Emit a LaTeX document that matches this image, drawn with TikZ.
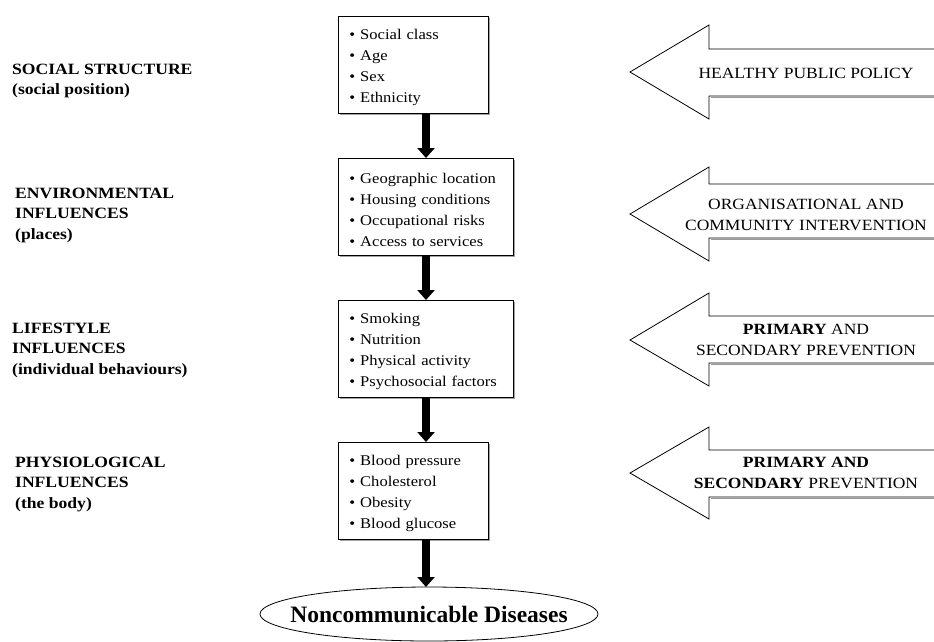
\documentclass[tikz,border=0pt]{standalone}
\usepackage{fontspec}
\setmainfont{Liberation Serif}
\newfontfamily\gar[FakeStretch=1.12]{Liberation Serif}
\usetikzlibrary{arrows.meta,shadows}

% #1 shaft top, #2 shaft bottom, #3 head top, #4 head bottom, #5 tip y
\newcommand\interventionarrow[5]{%
  \draw[arrowshadow] (940,#2+1.5) -- (710.5,#2+1.5);
  \filldraw[blockarrow] (940,#1) -- (709,#1) -- (709,#3) -- (630,#5)
    -- (709,#4) -- (709,#2) -- (940,#2);
}
\newcommand\firstline{\rule{0pt}{16pt}}

\begin{document}
\begin{tikzpicture}[x=1pt,y=-1pt,
  lbl/.style={anchor=north west, align=left, inner sep=0,
    font=\gar\bfseries\fontsize{15.7}{20.7}\selectfont},
  box/.style={draw, line width=0.9pt, fill=white, anchor=north west,
    minimum height=97pt, inner xsep=11pt, inner ysep=0pt, align=left,
    font=\gar\fontsize{14.8}{21}\selectfont,
    drop shadow={shadow xshift=1.4pt, shadow yshift=-1.4pt,
      fill=black!60, opacity=0.6}},
  flowarrow/.style={line width=8pt, -{Triangle[width=17pt,length=10pt]}},
  blockarrow/.style={draw, line width=0.8pt, fill=white, line join=miter},
  arrowshadow/.style={draw=black!40, line width=1pt},
  armtext/.style={align=center, inner sep=0, anchor=base,
    font=\gar\fontsize{15.6}{20.5}\selectfont}
]
\useasboundingbox (0,0) rectangle (934,641);
\clip (0,0) rectangle (934,641);

% ---- left-hand level labels ----
\node[lbl] (l1) at (12,63.6) {SOCIAL STRUCTURE\\(social position)};
\node[lbl] (l2) at (15,187.6) {ENVIRONMENTAL\\INFLUENCES\\(places)};
\node[lbl] (l3) at (12,322.6) {LIFESTYLE\\INFLUENCES\\(individual behaviours)};
\node[lbl] (l4) at (15,456.6) {PHYSIOLOGICAL\\INFLUENCES\\(the body)};

% ---- central chain of determinant boxes ----
\node[box, minimum width=150pt, text width=128pt] (b1) at (338,16)
  {\firstline\textbullet\ Social class\\\textbullet\ Age\\\textbullet\ Sex\\\textbullet\ Ethnicity};
\node[box, minimum width=175pt, text width=153pt] (b2) at (338,158)
  {\firstline\textbullet\ Geographic location\\\textbullet\ Housing conditions\\\textbullet\ Occupational risks\\\textbullet\ Access to services};
\node[box, minimum width=175pt, text width=153pt] (b3) at (338,300)
  {\firstline\textbullet\ Smoking\\\textbullet\ Nutrition\\\textbullet\ Physical activity\\\textbullet\ Psychosocial factors};
\node[box, minimum width=150pt, text width=128pt] (b4) at (338,442)
  {\firstline\textbullet\ Blood pressure\\\textbullet\ Cholesterol\\\textbullet\ Obesity\\\textbullet\ Blood glucose};

% ---- outcome ellipse ----
\node[inner sep=0, font=\bfseries\fontsize{23.5}{26}\selectfont] (ncd) at (429,614)
  {Noncommunicable Diseases};
\draw[line width=0.8pt] (ncd.center) ellipse [x radius=169, y radius=27];
\path (ncd.center) ++(0,-27) coordinate (ncdtop);

\coordinate (axis) at (426,0);
\draw[flowarrow] (b1.south -| axis) -- (b2.north -| axis);
\draw[flowarrow] (b2.south -| axis) -- (b3.north -| axis);
\draw[flowarrow] (b3.south -| axis) -- (b4.north -| axis);
\draw[flowarrow] (b4.south -| axis) -- (ncdtop -| axis);

% ---- intervention block arrows (open to the right edge) ----
\interventionarrow{49}{96}{25}{119}{72}
\interventionarrow{184}{238}{167}{261}{214}
\interventionarrow{316}{363}{293}{386}{340}
\interventionarrow{450}{497}{427}{519}{473}

\node[armtext] (t1) at (806,78) {HEALTHY PUBLIC POLICY};
\node[armtext] (t2) at (806,230) {ORGANISATIONAL AND\\COMMUNITY INTERVENTION};
\node[armtext] (t3) at (806,355) {\textbf{PRIMARY} AND\\SECONDARY PREVENTION};
\node[armtext] (t4) at (806,488) {\textbf{PRIMARY AND}\\\textbf{SECONDARY} PREVENTION};
\end{tikzpicture}
\end{document}
